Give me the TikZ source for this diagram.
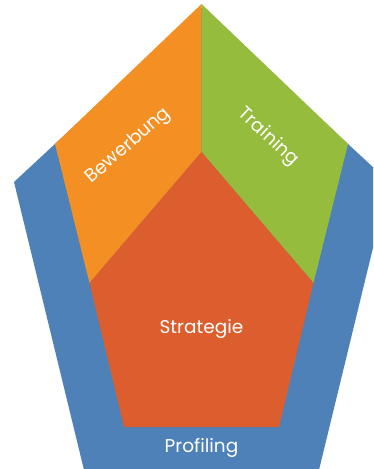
\documentclass[tikz,border=0pt]{standalone}
\usepackage{fontspec}
\setmainfont{Poppins}

\definecolor{profblue}{RGB}{77,129,183}
\definecolor{bewerborange}{RGB}{244,143,35}
\definecolor{traingreen}{RGB}{150,188,62}
\definecolor{stratred}{RGB}{220,94,47}

\begin{document}
\begin{tikzpicture}[x=1pt,y=-1pt]
	\tikzstyle{every node}=[text=white,inner sep=0pt,font=\fontsize{18.5}{22}\selectfont]
	\useasboundingbox (0,0) rectangle (373,469);
	\clip (0,0) rectangle (373,469);

	% outer ring
	\coordinate (Otop) at (201.5,8);
	\coordinate (Oleft) at (14,182);
	\coordinate (Oright) at (389,182);
	\coordinate (Obl) at (102,544);
	\coordinate (Obr) at (301,544);
	% inner pentagon
	\coordinate (Itop) at (201.5,4);
	\coordinate (Ileft) at (55,144);
	\coordinate (Iright) at (348,144);
	\coordinate (Ibl) at (124,427);
	\coordinate (Ibr) at (279,427);
	% core
	\coordinate (Ctop) at (201.5,152);
	\coordinate (Cleft) at (89.5,283);
	\coordinate (Cright) at (313.5,283);

	\fill[profblue] (Otop) -- (Oright) -- (Obr) -- (Obl) -- (Oleft) -- cycle;
	\fill[bewerborange] (Itop) -- (Ctop) -- (Cleft) -- (Ileft) -- cycle;
	\fill[traingreen] (Itop) -- (Iright) -- (Cright) -- (Ctop) -- cycle;
	\fill[stratred] (Ctop) -- (Cright) -- (Ibr) -- (Ibl) -- (Cleft) -- cycle;

	\node (B) at (128.5,146) [rotate=41] {Bewerbung};
	\node (T) at (268,137) [rotate=-43] {Training};
	\node (S) at (201.5,329) {Strategie};
	\node (P) at (201.5,448) {Profiling};
\end{tikzpicture}
\end{document}
